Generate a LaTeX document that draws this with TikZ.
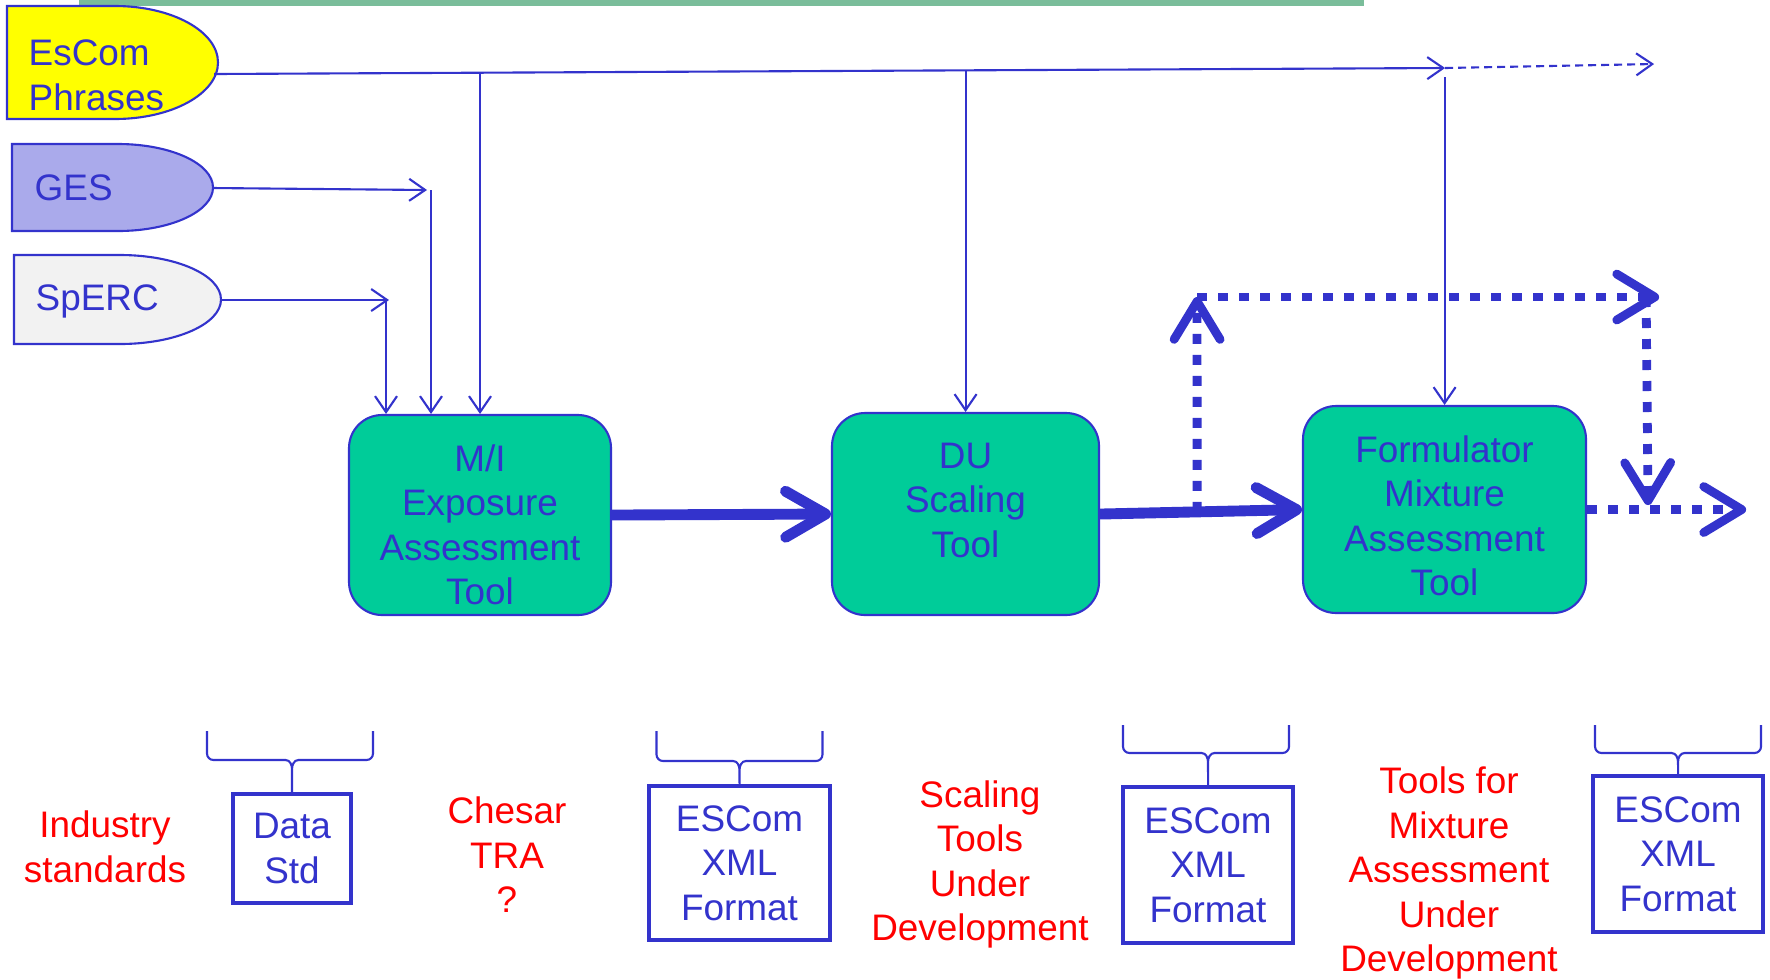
\documentclass[tikz,border=0pt]{standalone}
\usepackage{fontspec}
\setmainfont{Liberation Sans}
\usetikzlibrary{arrows.meta,positioning}
\definecolor{esblue}{RGB}{51,51,204}
\definecolor{toolgreen}{RGB}{0,204,153}
\definecolor{bargreen}{RGB}{122,189,154}
\definecolor{gesfill}{RGB}{170,170,235}
\definecolor{spercfill}{RGB}{242,242,242}
\definecolor{esyellow}{RGB}{255,255,0}
\definecolor{esred}{RGB}{255,0,0}

\begin{document}
\begin{tikzpicture}[scale=0.1]
                \tikzstyle{every node}+=[inner sep=0pt, font=\fontsize{10.5}{12.66}\selectfont]
                \tikzstyle{toolbox}=[draw=esblue, fill=toolgreen, line width=0.6pt, rounded corners=0.33cm, text=esblue, align=center]
                \tikzstyle{fmtbox}=[draw=esblue, line width=1.1pt, text=esblue, align=center, execute at begin node={\rule{0pt}{9.7pt}}]
                \tikzstyle{redtext}=[text=esred, align=center]
                \tikzstyle{srctext}=[text=esblue, align=left, anchor=west]
                \tikzstyle{srcline}=[draw=esblue, line width=0.6pt]
                \tikzstyle{feedarrow}=[esblue, line width=0.6pt, -{Straight Barb[length=0.16cm,width=0.22cm]}]
                \tikzstyle{flowarrow}=[esblue, line width=3.1pt, -{Straight Barb[round,length=0.4cm,width=0.46cm]}]
                \tikzstyle{dotarrow}=[esblue, line width=2.5pt, dash pattern=on 0.1cm off 0.11cm, -{Straight Barb[round,length=0.38cm,width=0.46cm]}]
                \tikzstyle{bracepath}=[esblue, line width=0.6pt]
                \useasboundingbox (0,0) rectangle (177,-97.9);
                \fill [bargreen] (7.9,0) rectangle (136.4,-0.6);
                \draw [srcline, fill=esyellow] (0.7,-0.6) -- (11.5,-0.6) arc[start angle=90, end angle=-90, x radius=10.3, y radius=5.65] -- (0.7,-11.9) -- cycle;
                \draw [srcline, fill=gesfill] (1.2,-14.4) -- (11.8,-14.4) arc[start angle=90, end angle=-90, x radius=9.5, y radius=4.35] -- (1.2,-23.1) -- cycle;
                \draw [srcline, fill=spercfill] (1.4,-25.5) -- (12.0,-25.5) arc[start angle=90, end angle=-90, x radius=10.1, y radius=4.45] -- (1.4,-34.4) -- cycle;
                \node [srctext] (escom) at (2.8,-7.55) {EsCom\\Phrases};
                \node [srctext] (ges) at (3.4,-18.8) {GES};
                \node [srctext] (sperc) at (3.5,-30.15) {SpERC};
                \node [toolbox, minimum width=2.62cm, minimum height=2.00cm] (mi) at (48.0,-51.5) {\rule{0pt}{13.2pt}M/I\\Exposure\\Assessment\\Tool};
                \node [toolbox, minimum width=2.67cm, minimum height=2.02cm] (du) at (96.55,-51.4) {DU\\Scaling\\Tool\rule[-8pt]{0pt}{8pt}};
                \node [toolbox, minimum width=2.83cm, minimum height=2.07cm] (fm) at (144.45,-50.95) {\rule{0pt}{11.1pt}Formulator\\Mixture\\Assessment\\Tool};
                \coordinate (escom-r) at (21.4,-7.4);
                \coordinate (e1) at (144.5,-6.8);
                \coordinate (e2) at (165.4,-6.4);
                \coordinate (j-mi) at (48.0,-7.3);
                \coordinate (j-du) at (96.55,-7.0);
                \coordinate (j-fm) at (144.45,-7.7);
                \draw [feedarrow] (escom-r) -- (e1);
                \draw [feedarrow, dash pattern=on 0.08cm off 0.05cm] (e1) -- (e2);
                \draw [feedarrow] (j-mi) -- (mi.north);
                \draw [feedarrow] (j-du) -- (du.north);
                \draw [feedarrow] (j-fm) -- (fm.north);
                \coordinate (ges-r) at (21.3,-18.8);
                \coordinate (ges-k) at (42.7,-19.0);
                \coordinate (ges-d) at (43.1,-19.0);
                \draw [feedarrow] (ges-r) -- (ges-k);
                \draw [feedarrow] (ges-d) -- (ges-d |- mi.north);
                \coordinate (sperc-r) at (22.1,-30.0);
                \coordinate (sperc-k) at (38.9,-30.0);
                \coordinate (sperc-d) at (38.6,-30.0);
                \draw [feedarrow] (sperc-r) -- (sperc-k);
                \draw [feedarrow] (sperc-d) -- (sperc-d |- mi.north);
                \draw [flowarrow] (mi.east) -- (du.west);
                \draw [flowarrow] (du.east) -- coordinate[pos=0.48] (split) (fm.west);
                \coordinate (ul) at (119.7,-29.7);
                \coordinate (ur) at (165.9,-29.7);
                \coordinate (dl) at (164.6,-29.7);
                \coordinate (dr) at (164.8,-50.5);
                \coordinate (out) at (174.6,-50.95);
                \draw [dotarrow] (split) -- (ul);
                \draw [dotarrow] (ul) -- (ur);
                \draw [dotarrow] (dl) -- (dr);
                \draw [dotarrow] (fm.east) -- (out);
                \node [redtext] (industry) at (10.5,-84.7) {Industry\\standards};
                \node [fmtbox, minimum width=1.18cm, minimum height=1.09cm] (std) at (29.2,-84.85) {Data\\Std};
                \node [redtext] (chesar) at (50.7,-85.5) {Chesar\\TRA\\?};
                \node [fmtbox, minimum width=1.81cm, minimum height=1.54cm] (xml1) at (73.95,-86.3) {ESCom\\XML\\Format};
                \node [redtext] (scaling) at (98.0,-86.45) {Scaling\\Tools\\Under\\Development};
                \node [fmtbox, minimum width=1.70cm, minimum height=1.56cm] (xml2) at (120.8,-86.5) {ESCom\\XML\\Format};
                \node [redtext] (mixture) at (144.9,-87.3) {Tools for\\Mixture\\Assessment\\Under\\Development};
                \node [fmtbox, minimum width=1.70cm, minimum height=1.56cm] (xml3) at (167.8,-85.4) {ESCom\\XML\\Format};
                \draw [bracepath] (20.7,-73.1) -- (20.7,-75.35) to[out=-90,in=180] (21.35,-76.0) -- (28.55,-76.0) to[out=0,in=90] (29.2,-76.9) -- (std.north)
                      (37.3,-73.1) -- (37.3,-75.35) to[out=-90,in=0] (36.65,-76.0) -- (29.85,-76.0) to[out=180,in=90] (29.2,-76.9);
                \draw [bracepath] (65.65,-73.1) -- (65.65,-75.45) to[out=-90,in=180] (66.3,-76.1) -- (73.3,-76.1) to[out=0,in=90] (73.95,-77.0) -- (xml1.north)
                      (82.25,-73.1) -- (82.25,-75.45) to[out=-90,in=0] (81.6,-76.1) -- (74.6,-76.1) to[out=180,in=90] (73.95,-77.0);
                \draw [bracepath] (112.3,-72.5) -- (112.3,-74.65) to[out=-90,in=180] (112.95,-75.3) -- (120.15,-75.3) to[out=0,in=90] (120.8,-76.2) -- (xml2.north)
                      (128.9,-72.5) -- (128.9,-74.65) to[out=-90,in=0] (128.25,-75.3) -- (121.45,-75.3) to[out=180,in=90] (120.8,-76.2);
                \draw [bracepath] (159.5,-72.5) -- (159.5,-74.65) to[out=-90,in=180] (160.15,-75.3) -- (167.15,-75.3) to[out=0,in=90] (167.8,-76.2) -- (xml3.north)
                      (176.1,-72.5) -- (176.1,-74.65) to[out=-90,in=0] (175.45,-75.3) -- (168.45,-75.3) to[out=180,in=90] (167.8,-76.2);
            \end{tikzpicture}
\end{document}
